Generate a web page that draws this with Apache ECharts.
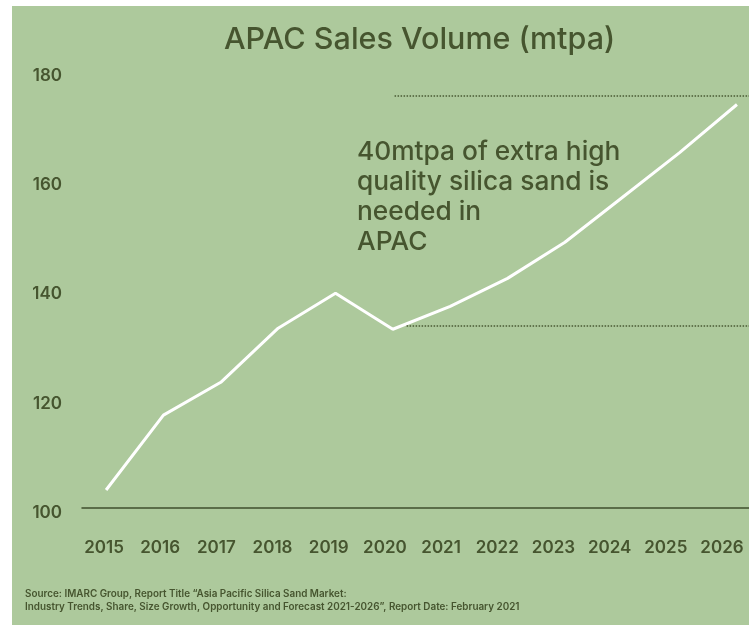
<!DOCTYPE html>
<html>
<head>
<meta charset="utf-8">
<script src="https://cdn.jsdelivr.net/npm/echarts@6/dist/echarts.min.js"></script>
<style>
  html, body { margin: 0; padding: 0; background: #ffffff; }
  #chart { position: absolute; left: 12px; top: 6px; width: 737px; height: 619px; }
</style>
</head>
<body>
<div id="chart"></div>
<script>
  // data
  const years = ['2015', '2016', '2017', '2018', '2019', '2020', '2021', '2022', '2023', '2024', '2025', '2026'];
  const volume = [104.2, 117.9, 123.9, 133.8, 140.2, 133.6, 137.8, 142.9, 149.5, 157.7, 165.9, 174.7];
  const yTicks = [100, 120, 140, 160, 180];
  // dotted guide lines: [start year, value]
  const upperGuide = [2020.03, 176.3];
  const lowerGuide = [2020.24, 134.3];

  const xMin = 2014.58;
  const xMax = 2026.21;
  const textColor = '#46552f';
  const font = 'Inter';

  const chart = echarts.init(document.getElementById('chart'));

  const option = {
    backgroundColor: '#adc99c',
    animation: false,
    title: [
      {
        text: 'APAC Sales Volume (mtpa)',
        left: 207,
        top: 13,
        textStyle: { color: textColor, fontSize: 30.5, fontWeight: 500, fontFamily: font }
      },
      {
        text: '40mtpa of extra high\nquality silica sand is\nneeded in\nAPAC',
        left: 340,
        top: 126,
        textStyle: { color: textColor, fontSize: 26.3, fontWeight: 500, fontFamily: font, lineHeight: 30 }
      },
      {
        text: 'Source: IMARC Group, Report Title \u201cAsia Pacific Silica Sand Market:\nIndustry Trends, Share, Size Growth, Opportunity and Forecast 2021-2026\u201d, Report Date: February 2021',
        left: 8,
        top: 577,
        textStyle: { color: textColor, fontSize: 9.9, fontWeight: 600, fontFamily: font, lineHeight: 13 }
      }
    ],
    grid: [
      { left: 70, right: 0, top: 69.5, bottom: 112 },
      { left: 92, right: 27, top: 69.5, bottom: 112 }
    ],
    xAxis: [
      {
        type: 'value',
        gridIndex: 0,
        min: xMin,
        max: xMax,
        offset: -5,
        axisLine: { show: true, lineStyle: { color: '#3f4f2c', width: 1.5 } },
        axisTick: { show: false },
        axisLabel: { show: false },
        splitLine: { show: false }
      },
      {
        type: 'category',
        gridIndex: 1,
        data: years,
        boundaryGap: false,
        axisLine: { show: false },
        axisTick: { show: false },
        axisLabel: { interval: 0, color: textColor, fontSize: 17, fontWeight: 600, fontFamily: font, margin: 26 },
        splitLine: { show: false }
      }
    ],
    yAxis: [
      {
        type: 'value',
        gridIndex: 0,
        min: yTicks[0],
        max: yTicks[yTicks.length - 1],
        interval: 20,
        axisLine: { show: false },
        axisTick: { show: false },
        splitLine: { show: false },
        axisLabel: { color: textColor, fontSize: 17, fontWeight: 600, fontFamily: font, margin: 20 }
      },
      { type: 'value', gridIndex: 1, show: false }
    ],
    series: [
      {
        type: 'line',
        xAxisIndex: 0,
        yAxisIndex: 0,
        data: years.map((y, i) => [Number(y), volume[i]]),
        symbol: 'none',
        lineStyle: { color: '#ffffff', width: 3 },
        markLine: {
          silent: true,
          symbol: 'none',
          label: { show: false },
          lineStyle: { color: '#4a5a33', type: 'dotted', width: 1.5 },
          data: [
            [{ coord: upperGuide }, { coord: [xMax, upperGuide[1]] }],
            [{ coord: lowerGuide }, { coord: [xMax, lowerGuide[1]] }]
          ]
        }
      }
    ]
  };

  chart.setOption(option);
</script>
</body>
</html>
